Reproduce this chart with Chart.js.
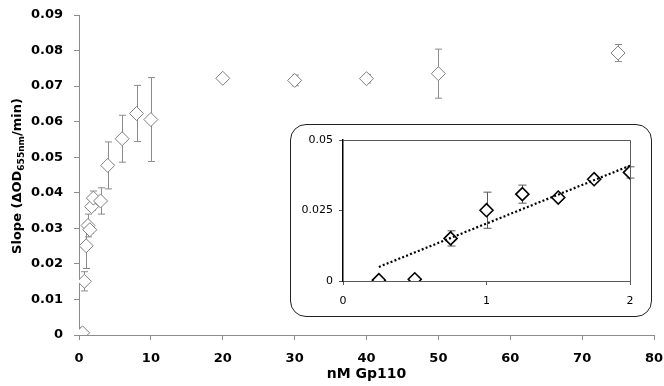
<!DOCTYPE html>
<html>
<head>
<meta charset="utf-8">
<script src="https://cdn.jsdelivr.net/npm/chart.js@4"></script>
<style>
  html, body { margin: 0; padding: 0; background: #fff; }
  #wrap { position: relative; width: 664px; height: 386px; }
  #inset {
    position: absolute; left: 290px; top: 124px;
    width: 362px; height: 193px; box-sizing: border-box;
    border: 1.5px solid #222; border-radius: 16px; background: #fff;
  }
  #insetChart { position: absolute; left: 0; top: 0; }
</style>
</head>
<body>
<div id="wrap">
  <canvas id="mainChart" width="664" height="386"></canvas>
  <div id="inset"><canvas id="insetChart" width="359" height="190"></canvas></div>
</div>
<script>
// nM Gp110 vs slope, with +/- error
const doses  = [0.25, 0.5, 0.75, 1, 1.25, 1.5, 1.75, 2, 3, 4, 6, 8, 10, 20, 30, 40, 50, 75];
const slopes = [0.0003, 0.0006, 0.0151, 0.0251, 0.0308, 0.0296, 0.0361, 0.0385, 0.0377, 0.0477,
                0.0552, 0.0623, 0.0606, 0.0722, 0.0716, 0.0721, 0.0735, 0.0793];
const errors = [0, 0, 0.0027, 0.0064, 0.0032, 0.001, 0.001, 0.002, 0.0037, 0.0066,
                0.0066, 0.0079, 0.0118, 0.0008, 0.0015, 0.0012, 0.0069, 0.0024];

// inset = first 8 points (0-2 nM) and linear trend
const insetCount = 8;
const trendX = [0.25, 2];
const trendY = [0.005, 0.0409];

const mainXTicks = [0, 10, 20, 30, 40, 50, 60, 70, 80];
const mainYTicks = [0, 0.01, 0.02, 0.03, 0.04, 0.05, 0.06, 0.07, 0.08, 0.09];
const insetXTicks = [0, 1, 2];
const insetYTicks = [0, 0.025, 0.05];

Chart.defaults.font.family = "'DejaVu Sans', sans-serif";
Chart.defaults.color = "#000";

const errorBars = {
  id: "errorBars",
  beforeDatasetsDraw(chart, args, opts) {
    const { ctx, scales: { x, y } } = chart;
    chart.data.datasets.forEach((ds) => {
      if (!ds.errors) return;
      ctx.save();
      ctx.strokeStyle = opts.color;
      ctx.lineWidth = opts.width;
      ds.data.forEach((p, j) => {
        const e = ds.errors[j];
        if (!e) return;
        const px = Math.round(x.getPixelForValue(p.x)) + 0.5;
        const top = y.getPixelForValue(p.y + e);
        const bot = y.getPixelForValue(p.y - e);
        ctx.beginPath();
        ctx.moveTo(px, top); ctx.lineTo(px, bot);
        ctx.moveTo(px - opts.cap, top); ctx.lineTo(px + opts.cap, top);
        ctx.moveTo(px - opts.cap, bot); ctx.lineTo(px + opts.cap, bot);
        ctx.stroke();
      });
      ctx.restore();
    });
  }
};

const yTitle = {
  id: "yTitle",
  afterDraw(chart) {
    const ctx = chart.ctx;
    const big = "bold 13px 'DejaVu Sans'";
    const small = "bold 9px 'DejaVu Sans'";
    const parts = [["Slope (\u0394OD", big, 0], ["655nm", small, 4], ["/min)", big, 0]];
    ctx.save();
    let total = 0;
    parts.forEach(([t, f]) => { ctx.font = f; total += ctx.measureText(t).width; });
    ctx.translate(18, 176);
    ctx.rotate(-Math.PI / 2);
    ctx.textBaseline = "middle";
    ctx.fillStyle = "#000";
    let cx = -total / 2;
    parts.forEach(([t, f, dy]) => {
      ctx.font = f;
      ctx.fillText(t, cx, dy);
      cx += ctx.measureText(t).width;
    });
    ctx.restore();
  }
};

const frame = {
  id: "frame",
  afterDraw(chart) {
    const { ctx, chartArea: a } = chart;
    ctx.save();
    ctx.strokeStyle = "#595959";
    ctx.lineWidth = 1;
    ctx.beginPath();
    ctx.moveTo(Math.round(a.left), Math.round(a.top) + 0.5);
    ctx.lineTo(Math.round(a.right) + 0.5, Math.round(a.top) + 0.5);
    ctx.lineTo(Math.round(a.right) + 0.5, Math.round(a.bottom));
    ctx.stroke();
    ctx.restore();
  }
};

function fmt(v) {
  return v === 0 ? "0" : String(+v.toFixed(3));
}

function createMainChart() {
  const points = doses.map((d, i) => ({ x: d, y: slopes[i] }));
  const axisGray = "#8c8c8c";
  new Chart(document.getElementById("mainChart"), {
    type: "scatter",
    data: {
      datasets: [{
        data: points,
        errors: errors,
        pointStyle: "rectRot",
        pointRadius: 7,
        pointBorderWidth: 1,
        pointBorderColor: "#7f7f7f",
        pointBackgroundColor: "#fff",
      }],
    },
    options: {
      responsive: false,
      animation: false,
      layout: { padding: { top: 15, right: 0, bottom: 0, left: 0 } },
      scales: {
        x: {
          type: "linear", min: 0, max: 80,
          afterBuildTicks: (s) => { s.ticks = mainXTicks.map((v) => ({ value: v })); },
          grid: { drawOnChartArea: false, color: axisGray, tickLength: 5 },
          border: { color: axisGray },
          ticks: { font: { size: 13, weight: "bold" }, padding: 11, maxRotation: 0 },
          title: { display: true, text: "nM Gp110", font: { size: 14, weight: "bold" },
                   padding: { top: 0, bottom: 3 } },
          afterFit: (s) => { s.height = 51; s.paddingLeft = 0; s.paddingRight = 10; },
        },
        y: {
          type: "linear", min: 0, max: 0.09,
          afterBuildTicks: (s) => { s.ticks = mainYTicks.map((v) => ({ value: v })); },
          grid: { drawOnChartArea: false, color: axisGray, tickLength: 5 },
          border: { color: axisGray },
          ticks: { font: { size: 13, weight: "bold" }, padding: 11, callback: (v) => v === 0 ? "0" : v.toFixed(2) },
          afterFit: (s) => { s.width = 79; s.paddingTop = 0; s.paddingBottom = 0; },
        },
      },
      plugins: {
        legend: false,
        tooltip: { enabled: false },
        errorBars: { color: "#8c8c8c", width: 1, cap: 3.5 },
      },
    },
    plugins: [errorBars, yTitle],
  });
}

function createInsetChart() {
  const points = doses.slice(0, insetCount).map((d, i) => ({ x: d, y: slopes[i] }));
  const trend = trendX.map((d, i) => ({ x: d, y: trendY[i] }));
  const dark = "#595959";
  new Chart(document.getElementById("insetChart"), {
    type: "scatter",
    data: {
      datasets: [
        {
          type: "line",
          data: trend,
          borderColor: "#000",
          borderWidth: 2.2,
          borderDash: [2, 2.2],
          pointRadius: 0,
          fill: false,
        },
        {
          data: points,
          errors: errors.slice(0, insetCount),
          pointStyle: "rectRot",
          pointRadius: 6.5,
          pointBorderWidth: 1.6,
          pointBorderColor: "#000",
          pointBackgroundColor: "#fff",
        },
      ],
    },
    options: {
      responsive: false,
      animation: false,
      layout: { padding: { top: 15, right: 20, bottom: 0, left: 0 } },
      scales: {
        x: {
          type: "linear", min: 0, max: 2,
          afterBuildTicks: (s) => { s.ticks = insetXTicks.map((v) => ({ value: v })); },
          grid: { drawOnChartArea: false, color: dark, tickLength: 4 },
          border: { color: dark },
          ticks: { font: { size: 11 }, padding: 10, maxRotation: 0 },
          afterFit: (s) => { s.height = 34; s.paddingLeft = 0; s.paddingRight = 0; },
        },
        y: {
          type: "linear", min: 0, max: 0.05,
          afterBuildTicks: (s) => { s.ticks = insetYTicks.map((v) => ({ value: v })); },
          grid: { drawOnChartArea: false, color: dark, tickLength: 4 },
          border: { color: "#000", width: 1.5 },
          ticks: { font: { size: 11 }, padding: 6, callback: fmt },
          afterFit: (s) => { s.width = 52; s.paddingTop = 0; s.paddingBottom = 0; },
        },
      },
      plugins: {
        legend: false,
        tooltip: { enabled: false },
        errorBars: { color: dark, width: 1, cap: 4 },
      },
    },
    plugins: [errorBars, frame],
  });
}

document.addEventListener("DOMContentLoaded", () => {
  createMainChart();
  createInsetChart();
});
</script>
</body>
</html>
